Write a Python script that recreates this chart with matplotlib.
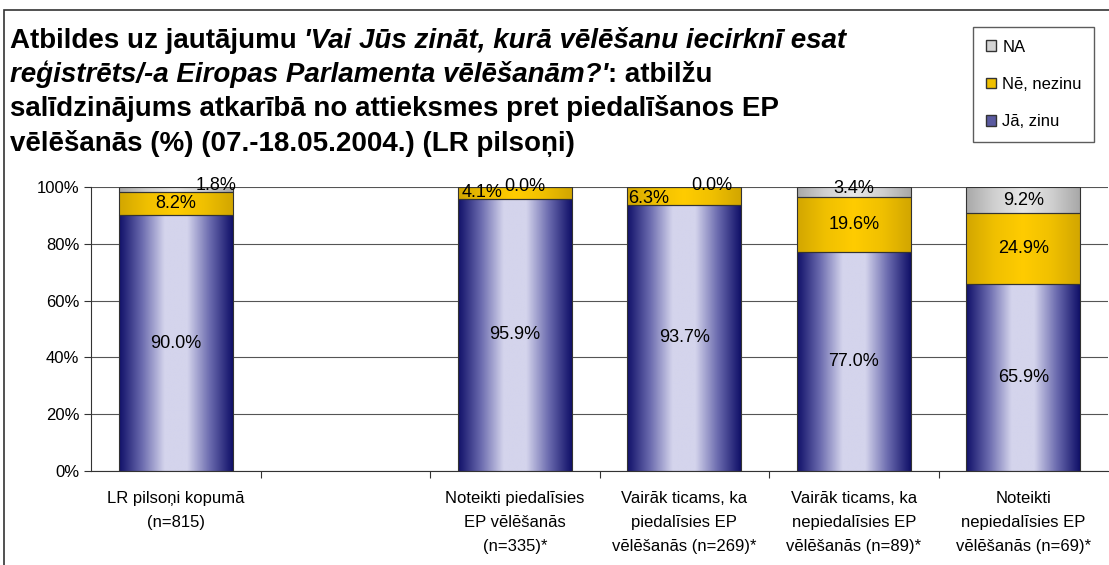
import numpy as np
import matplotlib.pyplot as plt
from matplotlib.colors import LinearSegmentedColormap
from matplotlib.patches import Rectangle, Patch

plt.rcParams['font.family'] = ['Liberation Sans', 'DejaVu Sans']

# data (%)
categories = ["LR pilsoņi kopumā\n(n=815)",
              "Noteikti piedalīsies\nEP vēlēšanās\n(n=335)*",
              "Vairāk ticams, ka\npiedalīsies EP\nvēlēšanās (n=269)*",
              "Vairāk ticams, ka\nnepiedalīsies EP\nvēlēšanās (n=89)*",
              "Noteikti\nnepiedalīsies EP\nvēlēšanās (n=69)*"]
ja_zinu = [90.0, 95.9, 93.7, 77.0, 65.9]
ne_nezinu = [8.2, 4.1, 6.3, 19.6, 24.9]
na = [1.8, 0.0, 0.0, 3.4, 9.2]
series_names = ["Jā, zinu", "Nē, nezinu", "NA"]

# slot layout: second slot left empty as in original
pos = [0, 2, 3, 4, 5]

W, H = 1109, 565
fig = plt.figure(figsize=(W / 100, H / 100), dpi=100)
ax = fig.add_axes([91 / W, 1 - 471 / H, (1108 - 91) / W, (471 - 187) / H])

# gradients: dark edges, light middle
cmaps = [
    LinearSegmentedColormap.from_list("b", ["#101068", "#6a6aae", "#d4d4ec", "#d4d4ec", "#6a6aae", "#101068"]),
    LinearSegmentedColormap.from_list("y", ["#d2a600", "#f0c000", "#ffcc00", "#f0c000", "#d2a600"]),
    LinearSegmentedColormap.from_list("g", ["#a8a8a8", "#d0d0d0", "#e8e8e8", "#d0d0d0", "#a8a8a8"]),
]
solid = ["#5a5aa0", "#f0c000", "#d4d4d4"]
grad = np.linspace(0, 1, 256).reshape(1, -1)

width = 0.67
bottom = np.zeros(len(pos))
for vals, cm in zip([ja_zinu, ne_nezinu, na], cmaps):
    bars = ax.bar(pos, vals, width, bottom=bottom, facecolor='none',
                  edgecolor='#333333', linewidth=0.8, zorder=3)
    for b in bars:
        x0, y0 = b.get_x(), b.get_y()
        w, h = b.get_width(), b.get_height()
        if h <= 0:
            continue
        im = ax.imshow(grad, cmap=cm, aspect='auto', extent=[x0, x0 + w, y0, y0 + h],
                       zorder=2, interpolation='bilinear')
        im.set_clip_path(b)
    bottom += np.array(vals)

# value labels (centre of segment, with nudges for the tiny ones)
nudge = {(2, 0): (0.24, 100.7), (1, 1): (-0.19, 97.95), (2, 1): (0.06, 100.2),
         (1, 2): (-0.21, 95.8), (2, 2): (0.16, 100.7), (2, 3): (0.0, 99.4)}
bottom = np.zeros(len(pos))
for si, vals in enumerate([ja_zinu, ne_nezinu, na]):
    for i, v in enumerate(vals):
        x, y = pos[i], bottom[i] + v / 2
        if (si, i) in nudge:
            dx, y = nudge[(si, i)]
            x += dx
        ax.text(x, y, f"{v:.1f}%", ha='center', va='center', fontsize=13, zorder=5)
    bottom += np.array(vals)

ax.set_xlim(-0.5, 5.5)
ax.set_ylim(0, 100)
ax.set_yticks(range(0, 101, 20))
ax.set_yticklabels([f"{t}%" for t in range(0, 101, 20)], fontsize=12)
ax.yaxis.grid(True, color='#555555', linewidth=0.8)
ax.set_axisbelow(True)
ax.tick_params(axis='y', length=5, width=0.8, color='#333333')

ax.set_xticks(np.arange(0.5, 5.5, 1.0))
ax.set_xticklabels([])
ax.tick_params(axis='x', length=5, width=0.8, color='#333333', direction='out')
for p, lab in zip(pos, categories):
    ax.text(p, -7, lab, ha='center', va='top', fontsize=12, linespacing=1.75,
            transform=ax.transData)

for s in ['top', 'right']:
    ax.spines[s].set_visible(False)
ax.spines['left'].set_color('#333333')
ax.spines['bottom'].set_color('#333333')

# outer chart frame
fig.add_artist(Rectangle((4 / W, -0.1), 1.2, 1 - 10 / H + 0.1, transform=fig.transFigure,
                         fill=False, edgecolor='#333333', linewidth=1.2))

# title: mixed bold / bold italic pieces
fig.canvas.draw()
renderer = fig.canvas.get_renderer()
title_lines = [
    [("Atbildes uz jautājumu ", 'normal'), ("'Vai Jūs zināt, kurā vēlēšanu iecirknī esat", 'italic')],
    [("reģistrēts/-a Eiropas Parlamenta vēlēšanām?'", 'italic'), (": atbilžu", 'normal')],
    [("salīdzinājums atkarībā no attieksmes pret piedalīšanos EP", 'normal')],
    [("vēlēšanās (%) (07.-18.05.2004.) (LR pilsoņi)", 'normal')],
]
baselines = [48, 82, 116, 151]
for pieces, yb in zip(title_lines, baselines):
    xpix = 10
    for txt, style in pieces:
        t = fig.text(xpix / W, 1 - yb / H, txt, fontsize=20, fontweight='bold',
                     fontstyle=style, ha='left', va='baseline')
        bb = t.get_window_extent(renderer)
        xpix += bb.width

# legend
handles = [Patch(facecolor=solid[2], edgecolor='#333333'),
           Patch(facecolor=solid[1], edgecolor='#333333'),
           Patch(facecolor=solid[0], edgecolor='#333333')]
leg = fig.legend(handles, ["NA", "Nē, nezinu", "Jā, zinu"], loc='upper left',
                 bbox_to_anchor=(973 / W, 1 - 27 / H), fontsize=12, frameon=True,
                 fancybox=False, edgecolor='#333333', handlelength=0.6, handleheight=0.6,
                 handletextpad=0.4, labelspacing=1.35, borderpad=0.75, borderaxespad=0)
leg.get_frame().set_linewidth(1.0)

fig.savefig("out.png", dpi=100)
